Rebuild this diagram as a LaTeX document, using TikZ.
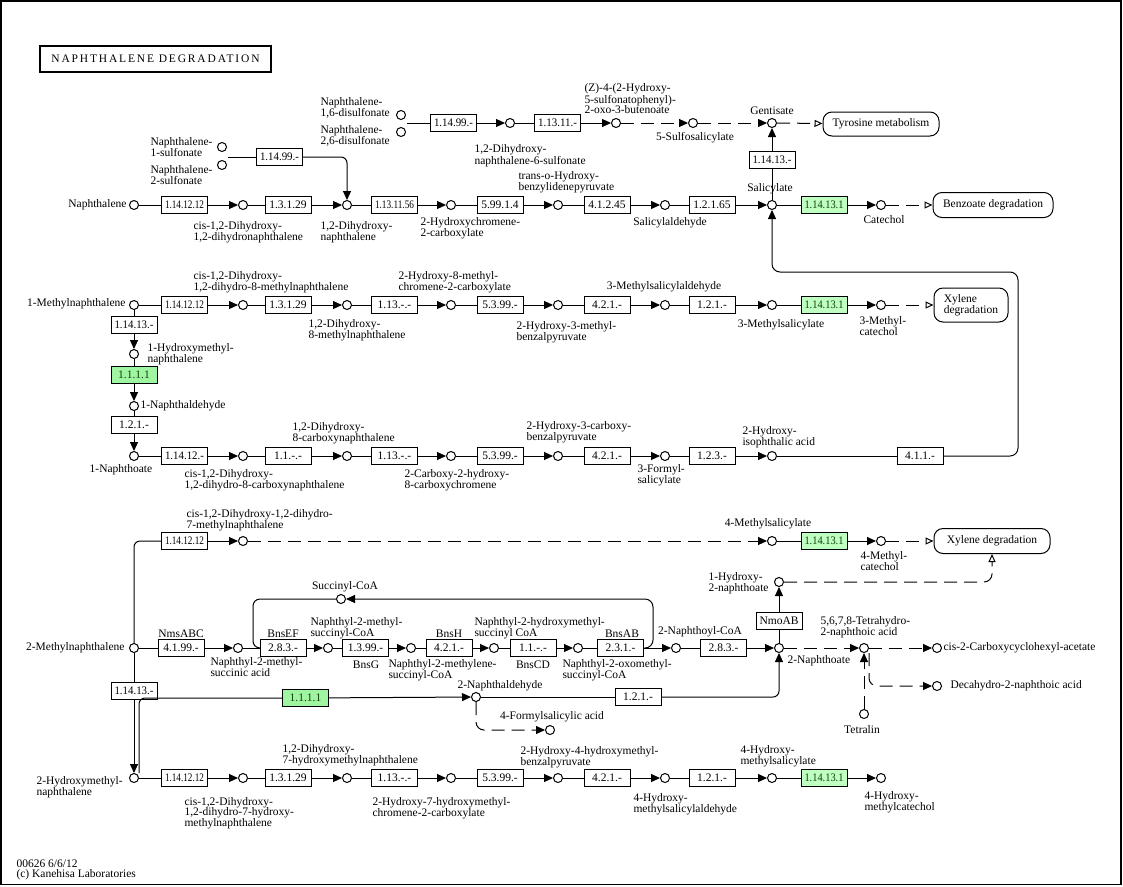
\documentclass[tikz,border=0pt]{standalone}
\usepackage{fontspec}
\setmainfont{Liberation Serif}
\newfontfamily\ttlfont[LetterSpace=16]{Liberation Serif}
\usetikzlibrary{arrows.meta}
\definecolor{gA}{HTML}{BFFFBF}
\definecolor{gB}{HTML}{A0F5A0}
\definecolor{gT}{HTML}{0F3F0F}
\newsavebox\ecbx
\newcommand\ecx[1]{\sbox\ecbx{#1}\ifdim\wd\ecbx>39pt\resizebox{39pt}{\height}{\usebox\ecbx}\else\usebox\ecbx\fi}
\newcommand\mkC[3]{\node[cpd] (#1) at (#2,#3) {};}
\newcommand\mkE[4]{\node[enzb] (#1) at (#2,#3) {\ecx{#4}};}
\newcommand\mkG[4]{\node[enzb,fill=gA,text=gT] (#1) at (#2,#3) {\ecx{#4}};}
\newcommand\mkL[5]{\node[lbl,anchor=#4] (#1) at (#2,#3) {#5};}
\tikzset{
 base/.style={font=\fontsize{11.5}{10.5}\selectfont},
 cpd/.style={circle,draw,fill=white,minimum size=9pt,inner sep=0pt,line width=1pt},
 enzb/.style={rectangle,draw,fill=white,minimum width=46pt,minimum height=17pt,inner sep=0pt,line width=1pt,base},
 lbl/.style={inner sep=0pt,align=left,base},
 mapb/.style={rectangle,rounded corners=9pt,draw,line width=1pt,inner sep=0pt,base,align=left},
 rx/.style={-{Triangle[length=9pt,width=8pt]}},
 ox/.style={-{Triangle[open,length=8pt,width=7pt]}},
 dsh/.style={dash pattern=on 13pt off 7pt},
}
\begin{document}
\begin{tikzpicture}[x=1pt,y=-1pt,line width=1pt]
\useasboundingbox (0,0) rectangle (1123,886);
\draw[line width=1.5pt] (1,0.75) rectangle (1121,884.5);
\node[draw,line width=1.8pt,minimum width=231pt,minimum height=26pt,inner sep=0pt,font=\fontsize{11.5}{12}\ttlfont] (ttl) at (155.5,59) {NAPHTHALENE DEGRADATION};
% ---------- row A
\mkC{cNds16}{401}{115}
\mkC{cNds26}{401}{132}
\coordinate (jA) at (407,123);
\mkE{eA1}{453.5}{123}{1.14.99.-}
\mkC{cA1}{510}{123}
\mkE{eA2}{557.5}{123}{1.13.11.-}
\mkC{cA2}{616}{123}
\mkC{cA3}{693}{123}
\mkC{cgen}{772}{123}
\node[mapb,minimum width=116pt,minimum height=24pt] (mTyr) at (881,124) {Tyrosine metabolism};
\mkL{lA1}{320}{108}{west}{Naphthalene-\\1,6-disulfonate}
\mkL{lA2}{320}{136}{west}{Naphthalene-\\2,6-disulfonate}
\mkL{lA3}{584}{99}{west}{(Z)-4-(2-Hydroxy-\\5-sulfonatophenyl)-\\2-oxo-3-butenoate}
\mkL{lA4}{474}{156}{west}{1,2-Dihydroxy-\\naphthalene-6-sulfonate}
\mkL{lA5}{695}{138}{center}{5-Sulfosalicylate}
\mkL{lA6}{772}{111}{center}{Gentisate}
% ---------- row B
\mkC{cNs1}{222}{147}
\mkC{cNs2}{222}{165}
\coordinate (jB) at (228,157);
\mkE{eNs}{279.5}{157}{1.14.99.-}
\mkC{cNap}{134}{205}
\mkE{eB1}{184.5}{205}{1.14.12.12}
\mkC{cB1}{243}{205}
\mkE{eB2}{288}{205}{1.3.1.29}
\mkC{cB2}{347}{205}
\mkE{eB3}{394.5}{205}{1.13.11.56}
\mkC{cB3}{451}{205}
\mkE{eB4}{500}{205}{5.99.1.4}
\mkC{cB4}{558}{205}
\mkE{eB5}{607}{205}{4.1.2.45}
\mkC{cB5}{665}{205}
\mkE{eB6}{712}{205}{1.2.1.65}
\mkC{csal}{772}{205}
\mkG{eB7}{824}{205}{1.14.13.1}
\mkC{ccat}{881}{205}
\node[mapb,minimum width=120pt,minimum height=25pt] (mBenz) at (993,205) {Benzoate degradation};
\mkE{eGen}{772}{160}{1.14.13.-}
\mkL{lB1}{150}{147}{west}{Naphthalene-\\1-sulfonate}
\mkL{lB2}{150}{175}{west}{Naphthalene-\\2-sulfonate}
\mkL{lB3}{127}{205}{east}{Naphthalene}
\mkL{lB4}{193}{232}{west}{cis-1,2-Dihydroxy-\\1,2-dihydronaphthalene}
\mkL{lB5}{320}{232}{west}{1,2-Dihydroxy-\\naphthalene}
\mkL{lB6}{420}{228}{west}{2-Hydroxychromene-\\2-carboxylate}
\mkL{lB7}{518}{182}{west}{trans-o-Hydroxy-\\benzylidenepyruvate}
\mkL{lB8}{670}{223}{center}{Salicylaldehyde}
\mkL{lB9}{770}{189}{center}{Salicylate}
\mkL{lB10}{884}{220}{center}{Catechol}
% ---------- row C
\mkC{c1MN}{134}{305}
\mkE{eC1}{184.5}{305}{1.14.12.12}
\mkC{cC1}{243}{305}
\mkE{eC2}{288}{305}{1.3.1.29}
\mkC{cC2}{347}{305}
\mkE{eC3}{394.5}{305}{1.13.-.-}
\mkC{cC3}{451}{305}
\mkE{eC4}{500}{305}{5.3.99.-}
\mkC{cC4}{558}{305}
\mkE{eC5}{607}{305}{4.2.1.-}
\mkC{cC5}{665}{305}
\mkE{eC6}{712}{305}{1.2.1.-}
\mkC{cC6}{772}{305}
\mkG{eC7}{824}{305}{1.14.13.1}
\mkC{cC7}{881}{305}
\node[mapb,minimum width=74pt,minimum height=34pt] (mXyl1) at (971,305) {Xylene\\degradation};
\mkL{lC1}{126}{304}{east}{1-Methylnaphthalene}
\mkL{lC2}{193}{282}{west}{cis-1,2-Dihydroxy-\\1,2-dihydro-8-methylnaphthalene}
\mkL{lC3}{308}{330}{west}{1,2-Dihydroxy-\\8-methylnaphthalene}
\mkL{lC4}{398}{282}{west}{2-Hydroxy-8-methyl-\\chromene-2-carboxylate}
\mkL{lC5}{516}{332}{west}{2-Hydroxy-3-methyl-\\benzalpyruvate}
\mkL{lC6}{664}{287}{center}{3-Methylsalicylaldehyde}
\mkL{lC7}{781}{325}{center}{3-Methylsalicylate}
\mkL{lC8}{859}{326}{west}{3-Methyl-\\catechol}
% ---------- vertical 1-methyl
\mkE{eV1}{134}{324.5}{1.14.13.-}
\mkC{cV1}{134}{354}
\node[enzb,fill=gB,text=gT] (eV2) at (134,375) {1.1.1.1};
\mkC{cV2}{134}{406}
\mkE{eV3}{134}{425}{1.2.1.-}
\mkC{c1NA}{134}{456}
\mkL{lV1}{147}{354}{west}{1-Hydroxymethyl-\\naphthalene}
\mkL{lV2}{140}{406}{west}{1-Naphthaldehyde}
\mkL{lV3}{121}{470}{center}{1-Naphthoate}
% ---------- row D
\mkE{eD1}{184.5}{456}{1.14.12.-}
\mkC{cD1}{243}{456}
\mkE{eD2}{288}{456}{1.1.-.-}
\mkC{cD2}{347}{456}
\mkE{eD3}{394.5}{456}{1.13.-.-}
\mkC{cD3}{451}{456}
\mkE{eD4}{500}{456}{5.3.99.-}
\mkC{cD4}{558}{456}
\mkE{eD5}{607}{456}{4.2.1.-}
\mkC{cD5}{665}{456}
\mkE{eD6}{712}{456}{1.2.3.-}
\mkC{cD6}{772}{456}
\mkE{eD7}{920}{456}{4.1.1.-}
\mkL{lD1}{184}{480}{west}{cis-1,2-Dihydroxy-\\1,2-dihydro-8-carboxynaphthalene}
\mkL{lD2}{292}{433}{west}{1,2-Dihydroxy-\\8-carboxynaphthalene}
\mkL{lD3}{404}{480}{west}{2-Carboxy-2-hydroxy-\\8-carboxychromene}
\mkL{lD4}{526}{432}{west}{2-Hydroxy-3-carboxy-\\benzalpyruvate}
\mkL{lD5}{637}{475}{west}{3-Formyl-\\salicylate}
\mkL{lD6}{742}{437}{west}{2-Hydroxy-\\isophthalic acid}
% ---------- row E
\mkE{eE1}{184.5}{541}{1.14.12.12}
\mkC{cE1}{243}{541}
\mkC{cE2}{772}{541}
\mkG{eE3}{824}{541}{1.14.13.1}
\mkC{cE3}{881}{541}
\node[mapb,minimum width=116pt,minimum height=25pt] (mXyl2) at (992,541) {Xylene degradation};
\mkL{lE1}{186}{520}{west}{cis-1,2-Dihydroxy-1,2-dihydro-\\7-methylnaphthalene}
\mkL{lE2}{768}{524}{center}{4-Methylsalicylate}
\mkL{lE3}{860}{561}{west}{4-Methyl-\\catechol}
% ---------- row F
\mkC{c2MN}{134}{648}
\mkE{eF1}{181}{648}{4.1.99.-}
\mkC{cF1}{238}{648}
\mkE{eF2}{283}{648}{2.8.3.-}
\mkC{cF2}{328}{648}
\mkE{eF3}{365.5}{648}{1.3.99.-}
\mkC{cF3}{411}{648}
\mkE{eF4}{449}{648}{4.2.1.-}
\mkC{cF4}{494}{648}
\mkE{eF5}{533}{648}{1.1.-.-}
\mkC{cF5}{578}{648}
\mkE{eF6}{620.5}{648}{2.3.1.-}
\mkC{cF6}{676}{648}
\mkE{eF7}{723.5}{648}{2.8.3.-}
\mkC{c2NA}{779}{648}
\mkC{cSCoA}{341}{599}
\mkE{eNmo}{779}{621}{NmoAB}
\mkC{c1H2NA}{779}{582}
\mkC{cTHNA}{864}{648}
\mkC{cCCHA}{937}{648}
\mkC{cTet}{864}{714}
\mkC{cDec}{937}{686}
\coordinate (jF) at (869,653);
\mkL{lF1}{125}{648}{east}{2-Methylnaphthalene}
\mkL{lF2}{181}{634}{center}{NmsABC}
\mkL{lF3}{210}{667}{west}{Naphthyl-2-methyl-\\succinic acid}
\mkL{lF4}{345}{587}{center}{Succinyl-CoA}
\mkL{lF5}{283}{634}{center}{BnsEF}
\mkL{lF6}{310}{628}{west}{Naphthyl-2-methyl-\\succinyl-CoA}
\mkL{lF7}{366}{665}{center}{BnsG}
\mkL{lF8}{449}{634}{center}{BnsH}
\mkL{lF9}{388}{670}{west}{Naphthyl-2-methylene-\\succinyl-CoA}
\mkL{lF10}{474}{628}{west}{Naphthyl-2-hydroxymethyl-\\succinyl CoA}
\mkL{lF11}{533}{665}{center}{BnsCD}
\mkL{lF12}{622}{634}{center}{BnsAB}
\mkL{lF13}{562}{670}{west}{Naphthyl-2-oxomethyl-\\succinyl-CoA}
\mkL{lF14}{700}{632}{center}{2-Naphthoyl-CoA}
\mkL{lF15}{708}{583}{west}{1-Hydroxy-\\2-naphthoate}
\mkL{lF16}{787}{661}{west}{2-Naphthoate}
\mkL{lF17}{820}{627}{west}{5,6,7,8-Tetrahydro-\\2-naphthoic acid}
\mkL{lF18}{943}{648}{west}{cis-2-Carboxycyclohexyl-acetate}
\mkL{lF19}{950}{686}{west}{Decahydro-2-naphthoic acid}
\mkL{lF20}{862}{730}{center}{Tetralin}
% ---------- vertical 2-methyl
\mkE{eV4}{134}{691}{1.14.13.-}
% ---------- row G
\coordinate (jG) at (139,773);
\node[enzb,fill=gB,text=gT] (eG1) at (305.5,698) {1.1.1.1};
\mkC{c2NAld}{476}{697}
\mkE{eG2}{638}{697}{1.2.1.-}
\mkC{c4FSA}{550}{730}
\mkL{lG1}{500}{686}{center}{2-Naphthaldehyde}
\mkL{lG2}{552}{717}{center}{4-Formylsalicylic acid}
% ---------- row H
\mkC{c2HMN}{134}{778}
\mkE{eH1}{184.5}{778}{1.14.12.12}
\mkC{cH1}{243}{778}
\mkE{eH2}{288}{778}{1.3.1.29}
\mkC{cH2}{347}{778}
\mkE{eH3}{394.5}{778}{1.13.-.-}
\mkC{cH3}{451}{778}
\mkE{eH4}{500}{778}{5.3.99.-}
\mkC{cH4}{558}{778}
\mkE{eH5}{607}{778}{4.2.1.-}
\mkC{cH5}{665}{778}
\mkE{eH6}{712}{778}{1.2.1.-}
\mkC{cH6}{772}{778}
\mkG{eH7}{824}{778}{1.14.13.1}
\mkC{cH7}{881}{778}
\mkL{lH1}{36}{787}{west}{2-Hydroxymethyl-\\naphthalene}
\mkL{lH2}{282}{755}{west}{1,2-Dihydroxy-\\7-hydroxymethylnaphthalene}
\mkL{lH3}{184}{813}{west}{cis-1,2-Dihydroxy-\\1,2-dihydro-7-hydroxy-\\methylnaphthalene}
\mkL{lH4}{372}{808}{west}{2-Hydroxy-7-hydroxymethyl-\\chromene-2-carboxylate}
\mkL{lH5}{520}{757}{west}{2-Hydroxy-4-hydroxymethyl-\\benzalpyruvate}
\mkL{lH6}{633}{804}{west}{4-Hydroxy-\\methylsalicylaldehyde}
\mkL{lH7}{740}{756}{west}{4-Hydroxy-\\methylsalicylate}
\mkL{lH8}{864}{802}{west}{4-Hydroxy-\\methylcatechol}
\mkL{lFt1}{16}{864}{west}{00626 6/6/12}
\mkL{lFt2}{16}{875}{west}{(c) Kanehisa Laboratories}
% ================= edges
\begin{scope}[on background layer/.try]
\end{scope}
% row A
\draw (jA) -- (eA1); \draw[rx] (eA1) -- (cA1); \draw (cA1) -- (eA2); \draw[rx] (eA2) -- (cA2);
\draw[rx,dsh] (cA2) -- (cA3); \draw[rx,dsh] (cA3) -- (cgen); \draw[ox,dsh] (cgen) -- (mTyr);
\draw (csal) -- (eGen); \draw[rx] (eGen) -- (cgen);
\draw (jB) -- (eNs); \draw[rx,rounded corners=6pt] (eNs) -| (cB2);
% row B
\draw (cNap) -- (eB1); \draw[rx] (eB1) -- (cB1); \draw (cB1) -- (eB2); \draw[rx] (eB2) -- (cB2);
\draw (cB2) -- (eB3); \draw[rx] (eB3) -- (cB3); \draw (cB3) -- (eB4); \draw[rx] (eB4) -- (cB4);
\draw (cB4) -- (eB5); \draw[rx] (eB5) -- (cB5); \draw (cB5) -- (eB6); \draw[rx] (eB6) -- (csal);
\draw (csal) -- (eB7); \draw[rx] (eB7) -- (ccat); \draw[ox,dsh] (ccat) -- (mBenz);
\draw (cD6) -- (eD7); \draw[rx,rounded corners=8pt] (eD7.east) -- (1018,456) -- (1018,272) -- (772,272) -- (csal);
% row C
\draw (c1MN) -- (eC1); \draw[rx] (eC1) -- (cC1); \draw (cC1) -- (eC2); \draw[rx] (eC2) -- (cC2);
\draw (cC2) -- (eC3); \draw[rx] (eC3) -- (cC3); \draw (cC3) -- (eC4); \draw[rx] (eC4) -- (cC4);
\draw (cC4) -- (eC5); \draw[rx] (eC5) -- (cC5); \draw (cC5) -- (eC6); \draw[rx] (eC6) -- (cC6);
\draw (cC6) -- (eC7); \draw[rx] (eC7) -- (cC7); \draw[ox,dsh] (cC7) -- (mXyl1);
% vertical
\draw (c1MN) -- (eV1); \draw[rx] (eV1) -- (cV1); \draw (cV1) -- (eV2); \draw[rx] (eV2) -- (cV2);
\draw (cV2) -- (eV3); \draw[rx] (eV3) -- (c1NA);
% row D
\draw (c1NA) -- (eD1); \draw[rx] (eD1) -- (cD1); \draw (cD1) -- (eD2); \draw[rx] (eD2) -- (cD2);
\draw (cD2) -- (eD3); \draw[rx] (eD3) -- (cD3); \draw (cD3) -- (eD4); \draw[rx] (eD4) -- (cD4);
\draw (cD4) -- (eD5); \draw[rx] (eD5) -- (cD5); \draw (cD5) -- (eD6); \draw[rx] (eD6) -- (cD6);
% row E
\draw[rounded corners=6pt] (c2MN) |- (eE1); \draw[rx] (eE1) -- (cE1); \draw[rx,dsh] (cE1) -- (cE2);
\draw (cE2) -- (eE3); \draw[rx] (eE3) -- (cE3); \draw[ox,dsh] (cE3) -- (mXyl2);
% row F
\draw (c2MN) -- (eF1); \draw[rx] (eF1) -- (cF1); \draw (cF1) -- (eF2); \draw[rx] (eF2) -- (cF2);
\draw (cF2) -- (eF3); \draw[rx] (eF3) -- (cF3); \draw (cF3) -- (eF4); \draw[rx] (eF4) -- (cF4);
\draw (cF4) -- (eF5); \draw[rx] (eF5) -- (cF5); \draw (cF5) -- (eF6); \draw[rx] (eF6) -- (cF6);
\draw (cF6) -- (eF7); \draw[rx] (eF7) -- (c2NA);
\draw[rx,rounded corners=8pt] (eF6.east) -| (653,599) -- (cSCoA);
\draw[rounded corners=7pt] (cSCoA) -| (253,648) -- (eF2.west);
\draw (c2NA) -- (eNmo); \draw[rx] (eNmo) -- (c1H2NA);
\draw[ox,dsh,rounded corners=8pt] (c1H2NA) -| (mXyl2);
\draw[rx,dsh] (c2NA) -- (cTHNA); \draw[rx,dsh] (cTHNA) -- (cCCHA);
\draw[rx,dsh] (cTet) -- (cTHNA);
\draw[rx,dsh,rounded corners=8pt] (jF) |- (cDec);
% vertical 2-methyl
\draw (c2MN) -- (eV4); \draw[rx] (eV4) -- (c2HMN);
% row G
\draw[rounded corners=6pt] (jG) |- (eG1); \draw[rx] (eG1) -- (c2NAld);
\draw (c2NAld) -- (eG2); \draw[rx,rounded corners=6pt] (eG2) -| (c2NA);
\draw[rx,dsh,rounded corners=8pt] (c2NAld) |- (c4FSA);
% row H
\draw (c2HMN) -- (eH1); \draw[rx] (eH1) -- (cH1); \draw (cH1) -- (eH2); \draw[rx] (eH2) -- (cH2);
\draw (cH2) -- (eH3); \draw[rx] (eH3) -- (cH3); \draw (cH3) -- (eH4); \draw[rx] (eH4) -- (cH4);
\draw (cH4) -- (eH5); \draw[rx] (eH5) -- (cH5); \draw (cH5) -- (eH6); \draw[rx] (eH6) -- (cH6);
\draw (cH6) -- (eH7); \draw[rx] (eH7) -- (cH7);
\end{tikzpicture}
\end{document}
